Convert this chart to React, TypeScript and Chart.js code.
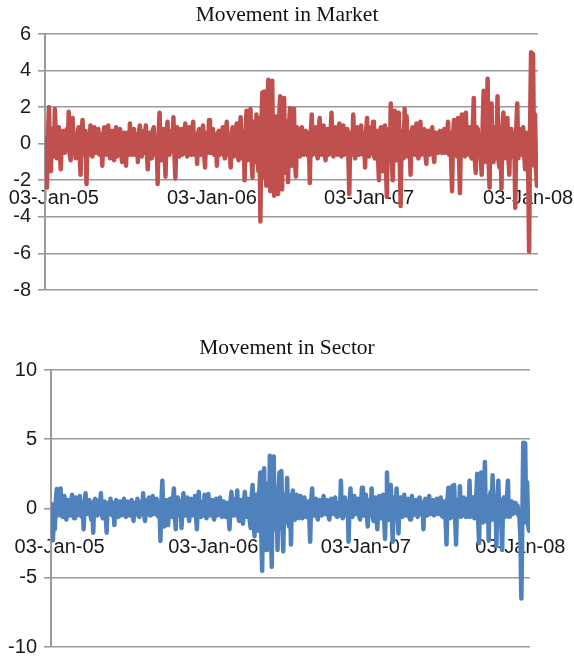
import React, { useEffect, useRef } from "react";
import { Chart, registerables } from "chart.js";

Chart.register(...registerables);

// ---- data ----
const xTickLabels = ["03-Jan-05", "03-Jan-06", "03-Jan-07", "03-Jan-08"];
const xTickIndex = [9, 169, 328, 489];

const marketTicks = [-8, -6, -4, -2, 0, 2, 4, 6];
const sectorTicks = [-10, -5, 0, 5, 10];

const market = [
  0.3, -1.2, -2.4, 0.4, 2.0, -0.6, -1.5, 0.8, 0.6, -0.7, 1.9, 0.3, -0.8, 0.5, 0.9, -0.6, -1.4, 0.4, 0.7, -0.5,
  -0.5, 0.6, 0.8, -0.4, 1.75, -0.6, -0.9, 0.7, 1.4, -0.3, 0.4, -0.8, -0.7, 0.6, 0.9, -0.5, -1.7, 0.5, 1.3, -0.4,
  -0.6, 0.7, -2.2, 0.3, 0.5, -0.6, 1.0, -0.4, -0.7, 0.6, 0.9, -0.5, -0.5, 0.7, 0.8, -0.6, -0.6, 0.5, -1.2, 0.4,
  0.9, -0.4, -0.6, 0.6, 1.0, -0.5, -0.8, 0.5, 0.7, -0.6, -0.9, 0.6, 0.9, -0.7, -0.5, 0.6, 0.8, -0.4, -1.0, 0.5,
  0.6, -0.5, -1.2, 0.6, 0.5, -0.6, 1.1, -0.3, -0.6, 0.7, 0.8, -0.6, -0.4, 0.5, -1.0, 0.6, 1.0, -0.5, -0.7, 0.6,
  0.7, -0.5, 1.0, -0.4, -1.4, 0.5, 0.6, -0.6, -0.8, 0.7, 0.9, -0.6, -0.5, 0.4, -2.2, 0.6, 1.7, -0.5, -0.9, 0.6,
  0.8, -0.5, -1.8, 0.7, 1.2, -0.5, -0.6, 0.6, 0.7, -0.4, 1.45, -0.6, -1.9, 0.5, 0.9, -0.6, -0.7, 0.5, 0.8, -0.6,
  -0.5, 0.6, 1.1, -0.5, -0.7, 0.6, 0.9, -0.5, -0.6, 0.7, 1.2, -0.6, -0.4, 0.5, -1.1, 0.6, 0.8, -0.5, -0.6, 0.7,
  1.0, -0.5, -1.3, 0.6, 0.6, -0.5, 1.3, -0.4, -0.5, 0.7, 0.8, -0.6, -0.6, 0.5, -1.2, 0.6, 0.7, -0.6, -0.5, 0.6,
  0.9, -0.5, -0.8, 0.6, 1.2, -0.6, 0.4, -0.5, -1.3, 0.6, 0.9, -0.7, -0.6, 0.5, 1.1, -0.6, -0.9, 0.7, 1.45, -0.6,
  -0.8, 0.7, -2.0, 0.6, 1.8, -0.9, -0.7, 1.0, 1.9, -0.8, -1.85, 1.2, 0.8, -1.0, 1.6, -0.8, -1.5, 1.4, -4.25, 1.0,
  2.8, -1.8, 2.85, -1.2, -2.3, 2.0, 3.5, -1.5, -2.6, 1.8, 3.45, -2.0, -2.85, 1.5, 1.2, -1.8, -2.75, 1.4, 2.6, -1.6,
  -2.5, 1.5, 2.5, -1.0, -1.6, 1.2, -2.1, 1.0, 1.95, -0.9, -1.2, 1.1, 1.9, -1.0, -1.8, 0.9, 0.8, -0.6, -0.7, 0.8,
  0.9, -0.5, -0.6, 0.6, 0.7, -0.5, -0.65, 0.6, -2.15, 0.5, 1.6, -0.6, -0.5, 0.6, 0.9, -0.5, -0.8, 0.6, 1.4, -0.5,
  -0.6, 0.6, 1.0, -0.5, -0.9, 0.7, 0.8, -0.6, -0.4, 0.5, 1.7, -0.6, -0.7, 0.6, 0.9, -0.5, -0.6, 0.7, 1.1, -0.5,
  -0.7, 0.6, 1.0, -0.6, -0.5, 0.7, 0.8, -0.5, -2.75, 0.6, 0.5, -0.5, 1.6, -0.6, -0.8, 0.6, 0.9, -0.5, -0.6, 0.7,
  1.0, -0.5, -0.6, 0.6, -1.3, 0.7, 1.4, -0.6, -0.7, 0.6, 0.9, -0.5, 1.2, -0.7, -0.8, 0.6, 0.7, -0.6, -2.0, 0.6,
  0.9, -0.7, -1.5, 0.8, 1.0, -0.9, -2.9, 0.7, 0.8, -0.8, 2.2, -0.9, -2.0, 0.8, 1.8, -0.9, -0.9, 0.8, 1.7, -0.8,
  -3.4, 0.7, 0.6, -0.8, 1.9, -0.6, 1.5, -0.7, -0.7, 0.6, -1.7, 0.6, 0.9, -0.5, -0.6, 0.6, 1.1, -0.6, -0.8, 0.6,
  1.2, -0.6, -0.5, 0.6, 0.8, -0.6, -1.1, 0.5, 0.7, -0.6, -0.4, 0.6, 0.9, -0.5, -1.0, 0.6, 0.6, -0.5, -0.5, 0.6,
  0.7, -0.4, -0.5, 0.6, 0.8, -0.5, -0.3, 0.6, 1.2, -0.6, 0.6, -0.7, -2.6, 0.5, 1.3, -0.6, 0.4, -0.7, 1.4, -0.6,
  -2.7, 0.6, 1.6, -0.6, 0.4, -0.7, 1.7, -0.6, -0.5, 0.8, 0.9, -0.7, -0.8, 0.9, 2.5, -0.8, -1.6, 0.9, 0.8, -0.7,
  0.5, -0.8, -1.7, 1.0, 2.9, -1.0, -0.8, 1.0, 3.55, -1.0, -2.4, 1.0, 2.2, -0.9, -1.0, 0.9, 0.6, -0.8, 2.6, -0.9,
  -1.3, 0.8, -2.45, 0.9, 1.7, -0.8, 0.5, -0.7, 1.4, -0.8, -1.7, 0.8, 0.8, -0.7, -0.5, 0.6, -3.5, 0.8, 2.2, -0.8,
  0.8, -0.5, -0.6, 0.7, 0.9, -0.6, -1.4, 0.6, 0.5, -1.0, -5.9, 1.0, 5.0, 4.95, 4.9, -1.2, 1.6, -1.5, -2.3, -2.2,
];

const sector = [
  0.3, -1.0, -2.3, -0.5, -1.5, 0.5, 1.4, -0.5, -0.4, 0.6, 1.45, -0.5, -0.6, 0.5, 0.9, -0.5, -0.8, 0.5, 0.6, -0.4,
  -0.5, 0.5, 1.0, -0.4, -0.7, 0.5, 0.8, -0.5, -0.4, 0.4, 0.9, -0.5, -0.6, 0.4, -1.5, 0.5, 1.1, -0.4, -0.3, 0.5,
  0.6, -0.4, -0.8, 0.4, -1.75, 0.5, 0.7, -0.4, -0.5, 0.5, 0.6, -0.4, 1.1, -0.5, -0.7, 0.4, 0.5, -0.5, -1.75, 0.4,
  0.4, -0.4, 0.7, -0.3, -0.5, 0.4, -1.2, 0.4, 0.6, -0.4, -0.6, 0.4, 0.5, -0.5, -0.4, 0.4, 0.7, -0.4, -0.6, 0.4,
  0.5, -0.4, -0.5, 0.4, 0.6, -0.4, -0.9, 0.4, 0.4, -0.4, 0.7, -0.5, -0.6, 0.4, 0.5, -0.4, 1.1, -0.5, -0.9, 0.4,
  0.6, -0.4, 0.8, -0.5, -0.5, 0.5, 0.9, -0.4, -0.3, 0.5, 0.7, -0.5, -0.6, 0.4, -2.35, 0.5, 2.0, -0.6, -1.3, 0.5,
  0.6, -0.5, -1.2, 0.5, 0.7, -0.5, -0.6, 0.5, 1.45, -0.5, -1.5, 0.5, 0.8, -0.4, -0.5, 0.5, -1.4, 0.5, 1.1, -0.5,
  -0.5, 0.5, 0.8, -0.4, -0.9, 0.5, 0.7, -0.5, -0.4, 0.5, 0.9, -0.5, -1.5, 0.5, 1.2, -0.5, -0.6, 0.4, 0.5, -0.5,
  1.0, -0.4, -0.7, 0.5, 1.05, -0.4, -0.5, 0.5, 0.6, -0.5, -0.8, 0.4, 0.7, -0.5, -0.4, 0.5, 0.8, -0.4, -0.6, 0.5,
  0.5, -0.5, -0.6, 0.4, 0.4, -0.5, -1.5, 0.5, 1.2, -0.4, -0.5, 0.5, 0.7, -0.5, 1.3, -0.5, -0.9, 0.5, 0.6, -0.5,
  -1.1, 0.6, 1.2, -0.6, -0.6, 0.7, 0.5, -0.8, -1.4, 0.8, 1.7, -0.8, -2.0, 0.9, 1.0, -1.0, -1.6, 1.2, 2.6, -1.5,
  -4.5, 1.5, 2.9, -1.6, -3.0, 1.5, 1.8, -1.8, 3.8, -1.5, -4.2, 2.0, 3.75, -1.5, -1.5, 1.4, -3.0, 1.2, 2.6, -1.4,
  2.7, -1.2, -3.1, 1.0, 0.8, -1.0, 2.2, -0.9, -1.3, 0.9, -2.6, 0.8, 1.3, -0.7, -0.8, 0.6, 1.0, -0.6, -0.7, 0.5,
  0.9, -0.5, -0.7, 0.5, 0.8, -0.4, -0.6, 0.5, 0.5, -0.5, -2.4, 0.5, 1.45, -0.5, -0.5, 0.4, 0.7, -0.5, -0.8, 0.5,
  0.6, -0.4, -0.5, 0.5, 0.9, -0.4, -0.4, 0.5, 0.6, -0.5, -0.8, 0.4, 0.7, -0.4, -0.3, 0.5, 0.8, -0.5, -0.6, 0.4,
  0.4, -0.5, 2.0, -0.5, -0.7, 0.5, 0.8, -0.4, -0.5, 0.5, -2.4, 0.5, 1.45, -0.5, -0.6, 0.5, 0.9, -0.4, -0.4, 0.5,
  0.7, -0.5, -0.8, 0.5, 1.5, -0.5, -0.5, 0.5, 1.0, -0.5, -1.3, 0.5, 0.6, -0.5, 1.45, -0.5, -0.9, 0.5, 0.8, -0.5,
  -1.5, 0.5, 0.9, -0.5, -0.7, 0.6, 1.0, -0.6, -2.2, 0.6, 2.6, -0.6, -0.8, 0.6, 1.7, -0.6, -2.4, 0.6, 0.8, -0.5,
  1.45, -0.5, -1.8, 0.5, 0.8, -0.5, -0.6, 0.5, 1.0, -0.4, -0.5, 0.5, 0.7, -0.5, -0.8, 0.4, 0.9, -0.5, -0.4, 0.5,
  0.6, -0.4, -0.6, 0.5, 0.8, -0.4, -0.3, 0.4, -1.5, 0.5, 0.7, -0.5, -0.5, 0.4, 0.9, -0.4, -0.4, 0.5, 0.6, -0.5,
  -0.5, 0.4, 0.7, -0.4, -0.4, 0.5, 0.8, -0.5, -0.6, 0.4, 0.5, -0.6, -2.6, 0.6, 1.5, -0.6, -0.7, 0.6, 1.6, -0.6,
  1.7, -0.6, -2.6, 0.6, 0.6, -0.5, 1.6, -0.6, -0.5, 0.5, 0.8, -0.5, -0.6, 0.5, 0.7, -0.6, 2.0, -0.6, -0.5, 0.7,
  0.8, -0.7, -0.6, 0.8, 2.5, -0.9, -2.5, 0.9, 2.6, -0.9, -1.0, 0.9, 3.35, -0.9, -0.8, 0.8, -2.3, 0.8, 1.2, -0.8,
  2.4, -0.8, -0.8, 0.8, -2.7, 0.8, 2.0, -0.7, 0.6, -0.8, -3.0, 0.7, 0.8, -0.6, -0.5, 0.7, 2.0, -0.6, -0.6, 0.5,
  0.5, -0.4, -0.3, 0.4, 0.4, -0.3, 0.2, -0.5, -0.6, -2.0, -6.5, -1.0, 4.75, 4.75, 4.7, -1.0, 1.9, -1.2, -1.6, -1.6,
];

// ---- chart panel ----
type PanelProps = {
  title: string;
  values: number[];
  yTicks: number[];
  color: string;
  axisAtY: number;
  top: number;
  height: number;
  padTop: number;
  padBottom: number;
  padRight: number;
  axisWidth: number;
  titleBaseline: number;
};

const GRID = "#9a9a9a";
const TICK_FONT = { family: "'Liberation Sans', Arial, sans-serif", size: 20 };

function Panel(p: PanelProps) {
  const ref = useRef<HTMLCanvasElement | null>(null);

  useEffect(() => {
    if (!ref.current) return;
    const titlePlugin = {
      id: "panelTitle",
      afterDraw(chart: any) {
        const ctx = chart.ctx;
        ctx.save();
        ctx.font = "21.5px 'Liberation Serif', 'Times New Roman', serif";
        ctx.fillStyle = "#111";
        ctx.textAlign = "center";
        ctx.textBaseline = "alphabetic";
        ctx.fillText(p.title, chart.width / 2, p.titleBaseline);
        ctx.restore();
      },
    };
    const chart = new Chart(ref.current, {
      type: "line",
      data: {
        datasets: [
          {
            data: p.values.map((y, i) => ({ x: i, y })),
            borderColor: p.color,
            backgroundColor: p.color,
            borderWidth: 4.5,
            pointRadius: 0,
            tension: 0,
            borderJoinStyle: "round",
            borderCapStyle: "round",
            fill: false,
          },
        ],
      },
      options: {
        responsive: false,
        animation: false,
        devicePixelRatio: 1,
        layout: {
          padding: { top: p.padTop, bottom: p.padBottom, left: 0, right: p.padRight },
        },
        plugins: {
          legend: { display: false },
          title: { display: false },
          tooltip: { enabled: false },
        },
        scales: {
          x: {
            type: "linear",
            min: 0,
            max: p.values.length - 1,
            position: { y: p.axisAtY } as any,
            grid: { display: false, drawTicks: false },
            border: { display: false },
            afterBuildTicks: (axis: any) => {
              axis.ticks = xTickIndex.map((v) => ({ value: v }));
            },
            afterFit: (s: any) => {
              s.paddingLeft = 0;
              s.paddingRight = 0;
            },
            ticks: {
              autoSkip: false,
              maxRotation: 0,
              padding: 6,
              color: "#1a1a1a",
              font: TICK_FONT,
              callback: (v: any) => {
                const k = xTickIndex.indexOf(Number(v));
                return k >= 0 ? xTickLabels[k] : "";
              },
            },
          },
          y: {
            type: "linear",
            position: "left",
            min: p.yTicks[0],
            max: p.yTicks[p.yTicks.length - 1],
            afterBuildTicks: (axis: any) => {
              axis.ticks = p.yTicks.map((v) => ({ value: v }));
            },
            afterFit: (s: any) => {
              s.width = p.axisWidth;
              s.paddingTop = 0;
              s.paddingBottom = 0;
            },
            grid: { color: GRID, lineWidth: 1.6, tickLength: 7, drawTicks: true },
            border: { display: true, color: GRID, width: 2 },
            ticks: {
              padding: 7,
              color: "#1a1a1a",
              font: TICK_FONT,
              callback: (v: any) => String(v),
            },
          },
        },
      },
      plugins: [titlePlugin],
    } as any);
    return () => chart.destroy();
  }, []);

  return (
    <canvas
      ref={ref}
      width={574}
      height={p.height}
      style={{ position: "absolute", left: 0, top: p.top, width: 574, height: p.height }}
    />
  );
}

export default function App() {
  return (
    <div
      style={{
        position: "fixed",
        left: 0,
        top: 0,
        width: 574,
        height: 657,
        overflow: "hidden",
        background: "#fff",
      }}
    >
      <Panel
        title="Movement in Market"
        values={market}
        yTicks={marketTicks}
        color="#C0504D"
        axisAtY={-2}
        top={0}
        height={300}
        padTop={34}
        padBottom={10}
        padRight={36}
        axisWidth={45}
        titleBaseline={21}
      />
      <Panel
        title="Movement in Sector"
        values={sector}
        yTicks={sectorTicks}
        color="#4F81BD"
        axisAtY={-1.5}
        top={330}
        height={327}
        padTop={40}
        padBottom={10}
        padRight={44}
        axisWidth={51}
        titleBaseline={24}
      />
    </div>
  );
}
